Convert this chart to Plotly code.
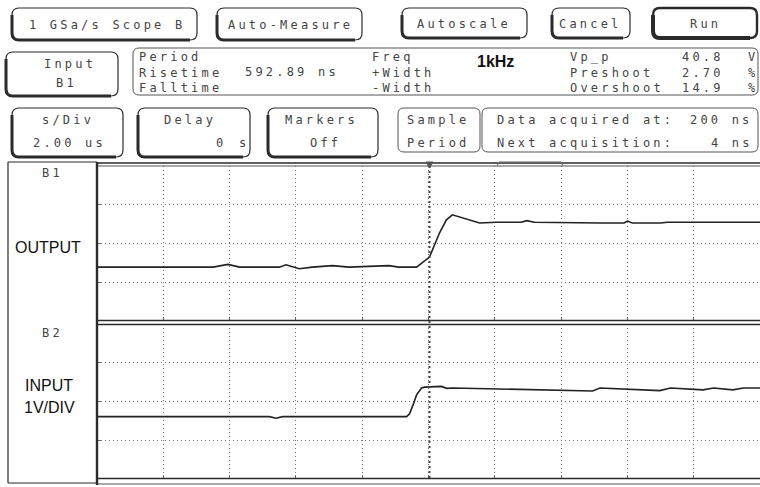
import plotly.graph_objects as go

# ---------------- data (read from the screen) ----------------
# time in microseconds (2 us/div, delay 0 at centre), output in divisions
out_t = [-10, -6.5, -6.05, -5.7, -4.5, -4.3, -3.9, -3.5, -2.9, -2.4, -1.2, -0.9,
         -0.36, 0.03, 0.33, 0.54, 0.72, 1.15, 1.54, 2.05, 2.8, 2.96, 3.2,
         5.2, 5.9, 6.0, 6.15, 7.0, 7.2, 10]
out_v = [-0.61, -0.61, -0.54, -0.61, -0.61, -0.55, -0.65, -0.61, -0.57, -0.61, -0.57, -0.61,
         -0.61, -0.35, 0.27, 0.61, 0.74, 0.63, 0.53, 0.55, 0.55, 0.59, 0.55,
         0.53, 0.53, 0.58, 0.53, 0.53, 0.55, 0.55]
# input channel, 1 V/div
in_t = [-10, -4.8, -4.6, -4.4, -0.66, -0.57, -0.48, -0.36, -0.21, -0.12, 0.39, 0.55,
        0.73, 4.56, 4.95, 5.17, 6.98, 7.3, 8.28, 8.6, 9.18, 9.5, 10]
in_v = [-0.39, -0.39, -0.43, -0.39, -0.39, -0.32, -0.12, 0.17, 0.35, 0.37, 0.39, 0.34,
        0.35, 0.28, 0.27, 0.35, 0.28, 0.35, 0.30, 0.35, 0.30, 0.35, 0.35]

x_range = [-10, 10]
y_range = [-2, 2]

# measurement readout (label columns and values)
meas_col1 = ["Period", "Risetime", "Falltime"]
meas_col2 = ["Freq", "+Width", "-Width"]
meas_col3 = ["Vp_p", "Preshoot", "Overshoot"]
meas_vals = ["40.8", "2.70", "14.9"]
meas_units = ["V", "%", "%"]

W, H = 760, 487
MONO = "DejaVu Sans Mono, Liberation Mono, monospace"
SANS = "Liberation Sans, Arial, sans-serif"
INK = "#2b2b2b"
TXT = "#444444"


def X(px):
    return px / W


def Y(py):
    return 1 - py / H


fig = go.Figure()
fig.add_trace(go.Scatter(x=out_t, y=out_v, mode="lines", xaxis="x", yaxis="y",
                         line=dict(color="#222", width=1.6), hoverinfo="skip",
                         showlegend=False))
fig.add_trace(go.Scatter(x=in_t, y=in_v, mode="lines", xaxis="x2", yaxis="y2",
                         line=dict(color="#222", width=1.6), hoverinfo="skip",
                         showlegend=False))

GRID_DASH = "1px,3px"
ax_common = dict(range=x_range, dtick=2, tick0=-10, showticklabels=False,
                 showgrid=True, griddash=GRID_DASH, gridcolor="#777", gridwidth=1,
                 zeroline=False, ticks="inside", ticklen=4, tickcolor="#666",
                 fixedrange=True)
ay_common = dict(range=y_range, dtick=1, tick0=-2, showticklabels=False,
                 showgrid=True, griddash=GRID_DASH, gridcolor="#777", gridwidth=1,
                 zeroline=False, ticks="inside", ticklen=4, tickcolor="#666",
                 fixedrange=True)

fig.update_layout(
    width=W, height=H, autosize=False,
    margin=dict(l=0, r=0, t=0, b=0),
    paper_bgcolor="white", plot_bgcolor="white",
    xaxis=dict(domain=[X(97), 1], anchor="y", **ax_common),
    yaxis=dict(domain=[Y(321), Y(166)], anchor="x", **ay_common),
    xaxis2=dict(domain=[X(97), 1], anchor="y2", **ax_common),
    yaxis2=dict(domain=[Y(479), Y(324)], anchor="x2", **ay_common),
)

shapes = []


def line(x0, y0, x1, y1, w=1.2, c=INK, dash=None):
    d = dict(type="line", xref="paper", yref="paper",
             x0=X(x0), y0=Y(y0), x1=X(x1), y1=Y(y1),
             line=dict(color=c, width=w))
    if dash:
        d["line"]["dash"] = dash
    shapes.append(d)


def rrect(x0, y0, x1, y1, r=7, w=1.2, c=INK, shadow=0):
    p = (f"M{X(x0 + r)},{Y(y0)} L{X(x1 - r)},{Y(y0)} Q{X(x1)},{Y(y0)} {X(x1)},{Y(y0 + r)} "
         f"L{X(x1)},{Y(y1 - r)} Q{X(x1)},{Y(y1)} {X(x1 - r)},{Y(y1)} "
         f"L{X(x0 + r)},{Y(y1)} Q{X(x0)},{Y(y1)} {X(x0)},{Y(y1 - r)} "
         f"L{X(x0)},{Y(y0 + r)} Q{X(x0)},{Y(y0)} {X(x0 + r)},{Y(y0)} Z")
    shapes.append(dict(type="path", xref="paper", yref="paper", path=p,
                       line=dict(color=c, width=w)))
    if shadow:
        s = (f"M{X(x0)},{Y(y0 + r)} L{X(x0)},{Y(y1 - r)} Q{X(x0)},{Y(y1)} {X(x0 + r)},{Y(y1)} "
             f"L{X(x1 - r)},{Y(y1)}")
        shapes.append(dict(type="path", xref="paper", yref="paper", path=s,
                           line=dict(color=c, width=shadow)))


# ---- soft-key buttons ----
rrect(12, 8, 197, 40, shadow=3)
rrect(217, 8, 362, 40, shadow=3)
rrect(402, 8, 527, 38, shadow=3)
rrect(552, 8, 630, 38, shadow=3)
rrect(653, 8, 757, 38, w=2.4, shadow=4)
rrect(6, 52, 118, 96, shadow=3)
rrect(133, 48, 758, 95, r=6, w=1, c="#555")
rrect(12, 108, 123, 157, shadow=3)
rrect(138, 108, 250, 157, shadow=3)
rrect(268, 108, 378, 157, shadow=3)
rrect(398, 108, 480, 152, r=6, w=1, c="#555")
rrect(482, 108, 758, 152, r=6, w=1, c="#555")

# ---- screen frame ----
line(8, 162, 97, 162)
line(8, 162, 8, 483)
line(8, 483, 97, 483)
line(97, 163, 760, 163, w=1.6)
line(97, 166, 760, 166, w=1.2, c="#555")
line(97, 320.5, 760, 320.5, w=1.4)
line(97, 324.5, 760, 324.5, w=1.4)
line(97, 478.5, 760, 478.5, w=1.4)
line(97, 484, 760, 484, w=1.2, c="#555")
line(97, 162, 97, 485, w=2.4)
# centre (trigger) axis and markers
line(429.5, 166, 429.5, 479, w=2, c="#444", dash="2px,3px")
shapes.append(dict(type="path", xref="paper", yref="paper",
                   path=f"M{X(426)},{Y(162)} L{X(433)},{Y(162)} L{X(429.5)},{Y(168)} Z",
                   fillcolor="#555", line=dict(color="#555", width=1)))
shapes.append(dict(type="path", xref="paper", yref="paper",
                   path=f"M{X(497)},{Y(166)} L{X(499)},{Y(162)} L{X(561)},{Y(162)} L{X(563)},{Y(166)}",
                   line=dict(color="#666", width=1)))

fig.update_layout(shapes=shapes)

# ---- texts ----
anns = []
FS = 12
SP = 3.2


def t(text, x, y, anchor="center", size=FS, font=MONO, color=TXT, sp=SP, bold=False):
    if font == MONO and sp:
        text = "<br>".join(f'<span style="letter-spacing:{sp}px">{s}</span>'
                           for s in text.split("<br>"))
    if bold:
        text = f"<b>{text}</b>"
    anns.append(dict(text=text, x=X(x), y=Y(y), xref="paper", yref="paper",
                     xanchor=anchor, yanchor="middle", align=anchor if anchor != "center" else "center",
                     showarrow=False,
                     font=dict(family=font, size=size, color=color)))


t("1 GSa/s Scope B", 107, 25)
t("Auto-Measure", 290, 25)
t("Autoscale", 464, 24)
t("Cancel", 590, 24)
t("Run", 705, 24)
t("Input", 70, 64)
t("B1", 66, 83)

t("<br>".join(meas_col1), 137, 72.5, "left")
t("592.89 ns", 243, 72, "left")
t("<br>".join(meas_col2), 370, 72.5, "left")
t("1kHz", 495, 61, size=16, font=SANS, color="#111", bold=True)
t("<br>".join(meas_col3), 568, 72.5, "left")
t("<br>".join(meas_vals), 726, 72.5, "right")
t("<br>".join(meas_units), 746, 72.5, "left")

t("s/Div", 68, 120)
t("2.00 us", 69, 143)
t("Delay", 190, 120)
t("0", 221, 143)
t("s", 244, 143)
t("Markers", 321, 120)
t("Off", 325, 143)
t("Sample", 438, 120)
t("Period", 438, 143)
t("Data acquired at:", 495, 120, "left")
t("Next acquisition:", 495, 143, "left")
t("200 ns", 755, 120, "right")
t("4 ns", 755, 143, "right")

t("B1", 52, 173)
t("OUTPUT", 48, 247, size=16, font=SANS, color="#111")
t("B2", 52, 333)
t("INPUT", 49, 385, size=16, font=SANS, color="#111")
t("1V/DIV", 49, 407, size=16, font=SANS, color="#111")

fig.update_layout(annotations=anns)
fig.write_html("out.html",
               config={"displayModeBar": False, "staticPlot": True},
               post_script="document.body.style.margin='0px';document.body.style.overflow='hidden';")
